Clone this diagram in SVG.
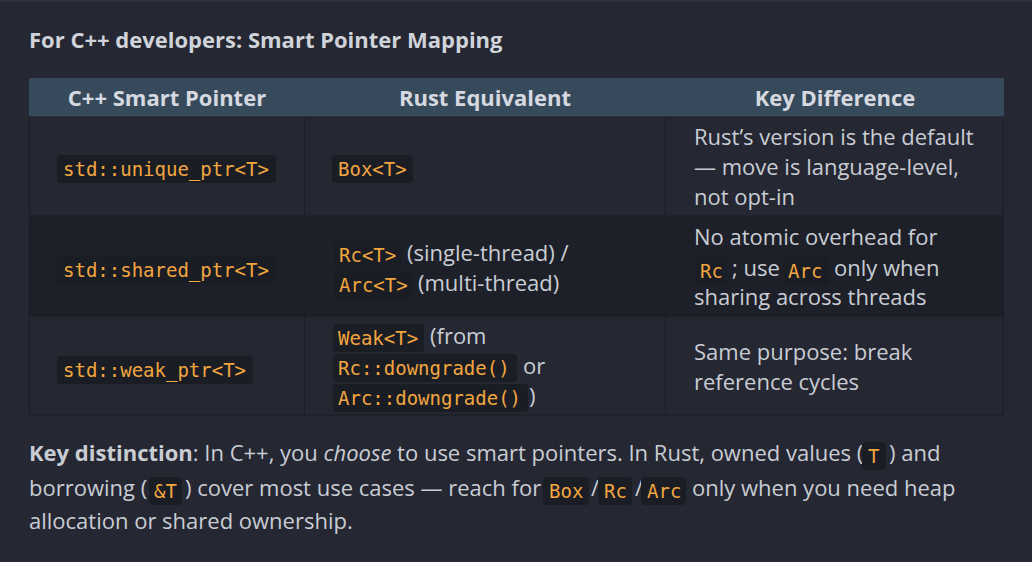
<svg xmlns="http://www.w3.org/2000/svg" width="1032" height="562" viewBox="0 0 1032 562">
<style>
.t{font-family:"Open Sans","Noto Sans",sans-serif;font-size:22px;fill:#c9cdd4}
.b{font-weight:bold}
.h{font-family:"Open Sans",sans-serif;font-size:22px;font-weight:bold;fill:#d6dae0}
.c{font-family:"DejaVu Sans Mono","Liberation Mono",monospace;font-size:19px;fill:#f2a640}
.cb{fill:#1a1d24}
.ln{stroke:#1a1d24;stroke-width:1}
</style>
<rect width="1032" height="562" fill="#252733"/>
<rect x="0" y="0" width="1032" height="2" fill="#30323d"/>
<text class="t b" x="29" y="48" style="fill:#d0d4da">For C++ developers: Smart Pointer Mapping</text>
<g id="table">
<rect x="29" y="78" width="975" height="39" fill="#374a5c"/>
<rect x="29" y="117" width="975" height="99" fill="#252733"/>
<rect x="29" y="216" width="975" height="100" fill="#1e2029"/>
<rect x="29" y="316" width="975" height="99" fill="#252733"/>
<g class="ln">
<line x1="29" y1="117" x2="1004" y2="117"/><line x1="29" y1="216" x2="1004" y2="216"/>
<line x1="29" y1="316" x2="1004" y2="316"/><line x1="29" y1="415" x2="1004" y2="415"/>
<line x1="29.5" y1="117" x2="29.5" y2="415"/><line x1="1003.5" y1="117" x2="1003.5" y2="415"/>
<line x1="304.5" y1="117" x2="304.5" y2="415"/><line x1="665.5" y1="117" x2="665.5" y2="415"/>
</g>
<text class="h" x="167" y="106" text-anchor="middle">C++ Smart Pointer</text>
<text class="h" x="485" y="106" text-anchor="middle">Rust Equivalent</text>
<text class="h" x="835" y="106" text-anchor="middle">Key Difference</text>
</g>
<g id="row1">
<rect class="cb" x="57" y="155" width="219" height="28" rx="4"/>
<text class="c" x="63" y="176">std::unique_ptr&lt;T&gt;</text>
<rect class="cb" x="332" y="155" width="81" height="28" rx="4"/>
<text class="c" x="338" y="176">Box&lt;T&gt;</text>
<text class="t" x="694" y="145">Rust’s version is the default</text>
<text class="t" x="694" y="175">— move is language-level,</text>
<text class="t" x="694" y="205">not opt-in</text>
</g>
<g id="row2">
<rect class="cb" x="57" y="256" width="219" height="28" rx="4"/>
<text class="c" x="63" y="277">std::shared_ptr&lt;T&gt;</text>
<rect class="cb" x="334" y="241" width="67" height="28" rx="4"/>
<text class="c" x="339" y="262">Rc&lt;T&gt;</text>
<text class="t" x="407" y="261">(single-thread) /</text>
<rect class="cb" x="334" y="271" width="78" height="28" rx="4"/>
<text class="c" x="339" y="292">Arc&lt;T&gt;</text>
<text class="t" x="418" y="291">(multi-thread)</text>
<text class="t" x="694" y="245">No atomic overhead for</text>
<rect class="cb" x="696" y="257" width="31" height="28" rx="4"/>
<text class="c" x="700" y="278">Rc</text>
<text class="t" x="732" y="276">; use</text>
<rect class="cb" x="783" y="257" width="46" height="28" rx="4"/>
<text class="c" x="788" y="278">Arc</text>
<text class="t" x="834" y="276">only when</text>
<text class="t" x="694" y="305">sharing across threads</text>
</g>
<g id="row3">
<rect class="cb" x="57" y="356" width="196" height="28" rx="4"/>
<text class="c" x="63" y="377">std::weak_ptr&lt;T&gt;</text>
<rect class="cb" x="333" y="324" width="91" height="28" rx="4"/>
<text class="c" x="338" y="345">Weak&lt;T&gt;</text>
<text class="t" x="430" y="344">(from</text>
<rect class="cb" x="333" y="354" width="184" height="28" rx="4"/>
<text class="c" x="338" y="375">Rc::downgrade()</text>
<text class="t" x="523" y="374">or</text>
<rect class="cb" x="333" y="384" width="195" height="28" rx="4"/>
<text class="c" x="338" y="405">Arc::downgrade()</text>
<text class="t" x="529" y="404">)</text>
<text class="t" x="694" y="360">Same purpose: break</text>
<text class="t" x="694" y="390">reference cycles</text>
</g>
<g id="para">
<text class="t" x="29" y="461"><tspan style="font-weight:bold">Key distinction</tspan>: In C++, you <tspan font-style="italic">choose</tspan> to use smart pointers. In Rust, owned values (</text>
<rect class="cb" x="862" y="442" width="24" height="28" rx="4"/>
<text class="c" x="868" y="463">T</text>
<text class="t" x="889" y="461">) and</text>
<text class="t" x="29" y="496">borrowing (</text>
<rect class="cb" x="149" y="477" width="33" height="28" rx="4"/>
<text class="c" x="154" y="498">&amp;T</text>
<text class="t" x="185" y="496">) cover most use cases — reach for</text>
<rect class="cb" x="543" y="477" width="46" height="28" rx="4"/>
<text class="c" x="549" y="498">Box</text>
<text class="t" x="591" y="496">/</text>
<rect class="cb" x="598" y="477" width="34" height="28" rx="4"/>
<text class="c" x="604" y="498">Rc</text>
<text class="t" x="635" y="496">/</text>
<rect class="cb" x="641" y="477" width="45" height="28" rx="4"/>
<text class="c" x="647" y="498">Arc</text>
<text class="t" x="692" y="496">only when you need heap</text>
<text class="t" x="29" y="529">allocation or shared ownership.</text>
</g>
</svg>
